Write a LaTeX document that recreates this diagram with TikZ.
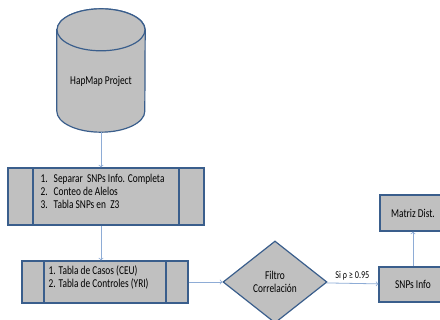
\documentclass[tikz,border=0pt]{standalone}
\usepackage{fontspec}
\setmainfont{Carlito}[FakeStretch=0.78]
\usetikzlibrary{arrows, positioning, shapes.geometric}

\definecolor{borde}{HTML}{3A5E8C}
\definecolor{relleno}{HTML}{C0C0C0}
\definecolor{azulflecha}{HTML}{8EACD6}

\begin{document}
\begin{tikzpicture}[x=1pt, y=-1pt,
        every node/.style={font=\fontsize{12}{13}\selectfont},
        caja/.style={draw=borde, fill=relleno, line width=1.2pt, inner sep=0pt},
        proceso/.style={caja, path picture={
            \draw[borde, line width=1.2pt] ([xshift=#1]path picture bounding box.north west)
                -- ([xshift=#1]path picture bounding box.south west);
            \draw[borde, line width=1.2pt] ([xshift=-#1]path picture bounding box.north east)
                -- ([xshift=-#1]path picture bounding box.south east);}},
        lista/.style={anchor=north west, align=left, inner sep=0pt},
        flecha/.style={draw=azulflecha, line width=0.8pt, ->}
    ]
        \useasboundingbox (0,0) rectangle (440,320);

        % Fuente de datos (cilindro)
        \node [inner sep=0pt, minimum width=88pt, minimum height=123pt] (hapmap) at (101,70.5) {};
        \draw[caja] ([yshift=-21pt]hapmap.north west) -- ([yshift=21pt]hapmap.south west)
            arc[start angle=180, end angle=360, x radius=44pt, y radius=21pt]
            -- ([yshift=-21pt]hapmap.north east)
            arc[start angle=0, end angle=180, x radius=44pt, y radius=21pt] -- cycle;
        \draw[caja] ([yshift=-21pt]hapmap.north) ellipse[x radius=44pt, y radius=21pt];
        \node [inner sep=0pt] (hapmaptxt) at ([yshift=-10.5pt]hapmap.center) {HapMap Project};

        % Procesos
        \node [proceso=25pt, minimum width=196pt, minimum height=57pt] (separar) at (106,196.5) {};
        \node [lista] (separartxt) at ([xshift=33pt, yshift=-7pt]separar.north west)
            {1.\hspace{6pt}Separar\ \ SNPs Info. Completa\\
             2.\hspace{6pt}Conteo de Alelos\\
             3.\hspace{6pt}Tabla SNPs en\ \ Z3};

        \node [proceso=22pt, minimum width=166pt, minimum height=42pt] (tablas) at (105,282) {};
        \node [lista] (tablastxt) at ([xshift=27pt, yshift=-5pt]tablas.north west)
            {1.\hspace{3pt}Tabla de Casos (CEU)\\
             2.\hspace{3pt}Tabla de Controles (YRI)};

        % Decision y salidas
        \node [caja, diamond, minimum width=104pt, minimum height=82pt, align=center] (filtro) at (275,282)
            {Filtro\\Correlación};
        \node [caja, minimum width=68pt, minimum height=35pt] (snps) at (413,284.5) {SNPs Info};
        \node [caja, minimum width=66pt, minimum height=36pt] (matriz) at (413,213) {Matriz Dist.};

        % Conexiones
        \draw[flecha] (hapmap.south) -- (hapmap.south |- separar.north);
        \draw[flecha] (hapmap.south |- separar.south) -- (hapmap.south |- tablas.north);
        \draw[flecha] (tablas) -- (filtro);
        \draw[flecha] (filtro) -- node[above=3pt, inner sep=0pt, font=\fontsize{10.5}{12}\selectfont] (umbral) {Si ρ ≥ 0.95} (snps);
        \draw[flecha] (snps) -- (matriz);
    \end{tikzpicture}
\end{document}
